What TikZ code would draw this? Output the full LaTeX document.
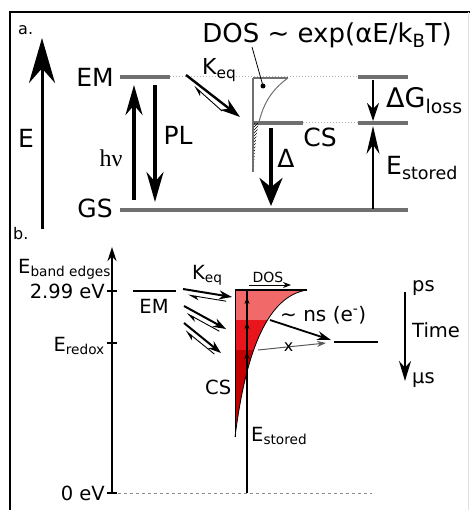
\documentclass[tikz,border=0pt]{standalone}
\usepackage{fontspec}
\setmainfont{DejaVu Sans}
\newfontfamily\hvfont{Liberation Serif}
\usepackage{tikz}
\usetikzlibrary{arrows.meta}
\usetikzlibrary{calc}
\usetikzlibrary{patterns}
\definecolor{levelgray}{RGB}{112,112,112}
\definecolor{dotgray}{RGB}{180,180,180}
\definecolor{doslight}{RGB}{242,105,105}
\definecolor{dosmid}{RGB}{232,22,28}
\definecolor{dosdark}{RGB}{196,0,0}
\newcommand{\bigarrow}{\draw[line width=3.5pt, -{Stealth[length=30pt, width=17pt]}]}
\newcommand{\keqarrow}{\draw[line width=2pt, -{Stealth[length=13pt, width=9pt]}]}
\newcommand{\backarrow}{\draw[line width=0.9pt, -{Stealth[harpoon, length=10pt, width=7pt]}]}
\newcommand{\lo}[1]{\textsubscript{#1}}

\begin{document}
\begin{tikzpicture}[x=1pt, y=-1pt,
    every node/.style={inner sep=0pt, font=\fontsize{25}{30}\selectfont},
    small/.style={font=\fontsize{19.5}{23}\selectfont},
    level/.style={levelgray, line width=4pt},
    guide/.style={dotgray, dotted, line width=1pt},
    tick/.style={line width=1.2pt}]
    \useasboundingbox (0,0) rectangle (470,510);

    % Draw frame
    \draw[line width=2pt] (10,510) -- (10,12) -- (470,12);
    \draw[black!12, line width=1pt] (468,12) -- (468,510);

    % Panel a: energy axis
    \node[anchor=base west, font=\fontsize{16}{18}\selectfont] (lbla) at (18,35) {a.};
    \coordinate (Ebot) at (42,229);
    \coordinate (Etop) at (42,38);
    \draw[line width=3pt, -{Stealth[length=45pt, width=26pt]}] (Ebot) -- (Etop);
    \node[anchor=base] (Eaxis) at (26,148) {E};

    % Panel a: levels
    \coordinate (em0) at (120,77);
    \coordinate (em1) at (170,77);
    \coordinate (gs0) at (120,210);
    \coordinate (gs1) at (408,210);
    \coordinate (cs0) at (253,123);
    \coordinate (cs1) at (303,123);
    \coordinate (top0) at (358,77);
    \coordinate (top1) at (408,77);
    \coordinate (mid0) at (358,123);
    \coordinate (mid1) at (408,123);
    \draw[guide] (em1) -- (top0);
    \draw[guide] (cs1) -- (mid0);
    \draw[level] (em0) -- (em1);
    \draw[level] (gs0) -- (gs1);
    \draw[level] (cs0) -- (cs1);
    \draw[level] (top0) -- (top1);
    \draw[level] (mid0) -- (mid1);
    \node[anchor=base] (EMa) at (95,87) {EM};
    \node[anchor=base] (GSa) at (95,218) {GS};

    % Panel a: absorption and emission
    \coordinate (hv0) at (134,200);
    \coordinate (hv1) at (134,85);
    \coordinate (pl0) at (155,85);
    \coordinate (pl1) at (155,202);
    \bigarrow (hv0) -- (hv1);
    \bigarrow (pl0) -- (pl1);
    \node[anchor=base, font=\fontsize{24}{28}\selectfont\hvfont] (hv) at (111,167) {hν};
    \node[anchor=base] (PL) at (178,145) {PL};

    % Panel a: equilibrium
    \coordinate (kf0) at (186,75);
    \coordinate (kf1) at (240,117);
    \coordinate (kb0) at (222,111);
    \coordinate (kb1) at (194,86);
    \draw[line width=2.4pt, -{Stealth[length=20pt, width=13pt]}] (kf0) -- (kf1);
    \backarrow (kb0) -- (kb1);
    \node[anchor=base west, font=\fontsize{22}{26}\selectfont] (Keqa) at (202,75) {K\lo{eq}};

    % Panel a: density of states
    \coordinate (dostop) at (253,78);
    \coordinate (dosedge) at (288,78);
    \coordinate (dosbot) at (253,172);
    \fill[pattern=north east lines, pattern color=black]
        (cs0) -- plot[domain=123:172, samples=20] ({253+35*exp(-(\x-78)/25)}, \x) -- cycle;
    \draw[levelgray, line width=1pt] plot[domain=78:123, samples=30] ({253+35*exp(-(\x-78)/25)}, \x);
    \draw[levelgray, line width=2pt] (dostop) -- (dosbot);
    \draw[levelgray, line width=1.5pt] (dostop) -- (dosedge);
    \node[anchor=base, font=\fontsize{26}{30}\selectfont] (dosf) at (327,43) {DOS \textasciitilde{} exp(αE/k\lo{B}T)};
    \coordinate (ptr) at (252,47);
    \coordinate (dosdot) at (263,86);
    \fill (dosdot) circle (2.5pt);
    \draw[line width=0.8pt] (ptr) -- (dosdot);
    \node[anchor=base] (CSa) at (320,147) {CS};

    % Panel a: energy differences
    \coordinate (d0) at (271,128);
    \coordinate (d1) at (271,206);
    \draw[line width=3.5pt, -{Stealth[length=28pt, width=23pt]}] (d0) -- (d1);
    \node[anchor=base] (Dlab) at (286,168) {Δ};
    \coordinate (dg0) at (373,80);
    \coordinate (dg1) at (373,121);
    \draw[line width=1.5pt, -{Stealth[length=18pt, width=12pt]}] (dg0) -- (dg1);
    \node[anchor=base west, font=\fontsize{27}{30}\selectfont] (dG) at (386,108) {ΔG\lo{loss}};
    \coordinate (es0) at (373,209);
    \coordinate (es1) at (373,126);
    \draw[line width=1.5pt, -{Stealth[length=28pt, width=13pt]}] (es0) -- (es1);
    \node[anchor=base west] (Esa) at (386,175) {E\lo{stored}};

    % Panel b: energy axis
    \node[anchor=base west, font=\fontsize{16}{18}\selectfont] (lblb) at (13,239) {b.};
    \coordinate (t0) at (112,493);
    \coordinate (b1) at (112,247);
    \coordinate (t299) at (112,291);
    \coordinate (tred) at (112,343);
    \coordinate (dashend) at (372,493);
    \draw[black!45, dashed, line width=1pt] (t0) -- (dashend);
    \draw[line width=2pt, -{Stealth[length=14pt, width=9pt]}] (t0) -- (b1);
    \foreach \t in {t0,t299,tred}
        \draw[tick] ([xshift=-5pt]\t) -- ([xshift=5pt]\t);
    \node[small, anchor=base west] (Eband) at (18,273) {E\lo{band edges}};
    \node[small, anchor=east] (v299) at ([xshift=-7pt]t299) {2.99 eV};
    \node[small, anchor=base east] (Ered) at (105,351) {E\lo{redox}};
    \node[small, anchor=east] (zero) at ([xshift=-7pt]t0) {0 eV};

    % Panel b: emitter level and equilibria
    \coordinate (emb0) at (133,291);
    \coordinate (emb1) at (176,291);
    \draw[line width=2.5pt] (emb0) -- (emb1);
    \node[small, anchor=base] (EMb) at (154,313) {EM};
    \node[small, anchor=base west] (Keqb) at (192,279) {K\lo{eq}};
    \foreach \n/\ax/\ay/\bx/\by/\ox/\oy in {1/183/289/232/297/-1/5, 2/184/306/226/329/-2.5/4.5, 3/184/323/221/353/-3/4} {
        \coordinate (f\n a) at (\ax,\ay);
        \coordinate (f\n b) at (\bx,\by);
        \coordinate (r\n a) at ($(f\n a)!0.9!(f\n b)+(\ox,\oy)$);
        \coordinate (r\n b) at ($(f\n a)!0.12!(f\n b)+(\ox,\oy)$);
        \keqarrow (f\n a) -- (f\n b);
        \backarrow (r\n a) -- (r\n b);
    }

    % Panel b: charge separated density of states
    \coordinate (dosb) at (235,290);
    \coordinate (dosbR) at (307,290);
    \coordinate (tailb) at (235,437);
    \coordinate (axb) at (247,290);
    \coordinate (axb0) at (247,493);
    \begin{scope}
        \clip (dosb) -- (dosbR) .. controls (268,296) and (246,350) .. (tailb) -- cycle;
        \fill[doslight] (235,288) rectangle (310,320);
        \fill[dosmid] (235,320) rectangle (310,350);
        \fill[dosdark] (235,350) rectangle (310,440);
    \end{scope}
    \draw[line width=0.8pt] (dosbR) .. controls (268,296) and (246,350) .. (tailb);
    \draw[line width=1.5pt] (dosb) -- (dosbR);
    \draw[line width=1pt] (dosb) -- (tailb);
    \draw[line width=1.5pt] (axb) -- (axb0);
    \foreach \ya/\yb in {325/297, 352/322, 380/352}
        \draw[line width=1pt, -{Stealth[length=7pt, width=5pt]}] (247,\ya) -- (247,\yb);
    \coordinate (dosa0) at (249,285);
    \coordinate (dosa1) at (291,285);
    \draw[line width=1pt, -{Stealth[length=8pt, width=6pt]}] (dosa0) -- (dosa1);
    \node[anchor=base, font=\fontsize{14}{16}\selectfont] (doslab) at (268,282) {DOS};
    \node[small, anchor=base west] (CSb) at (205,394) {CS};
    \node[small, anchor=base west] (Esb) at (251,441) {E\lo{stored}};

    % Panel b: electron transfer to acceptor
    \coordinate (acc0) at (334,342);
    \coordinate (acc1) at (378,342);
    \draw[line width=2.5pt] (acc0) -- (acc1);
    \coordinate (nsa0) at (270,320);
    \coordinate (nsa1) at (331,340);
    \draw[line width=1.8pt, -{Stealth[length=14pt, width=9pt]}] (nsa0) -- (nsa1);
    \node[anchor=base west, font=\fontsize{20}{24}\selectfont] (nslab) at (280,321) {\textasciitilde{} ns (e\textsuperscript{-})};
    \coordinate (xa0) at (258,350);
    \coordinate (xa1) at (326,343);
    \draw[black!65, line width=1pt, -{Stealth[length=9pt, width=6pt]}] (xa0) -- (xa1)
        node[pos=0.45, black, font=\fontsize{16}{18}\selectfont] (xmark) {x};

    % Panel b: time axis
    \coordinate (time0) at (405,292);
    \coordinate (time1) at (405,381);
    \draw[line width=2pt, -{Stealth[length=20pt, width=12pt]}] (time0) -- (time1);
    \node[small, anchor=base west] (ps) at (412,291) {ps};
    \node[small, anchor=base west] (Time) at (412,337) {Time};
    \node[small, anchor=base west] (mus) at (412,383) {μs};
\end{tikzpicture}
\end{document}
